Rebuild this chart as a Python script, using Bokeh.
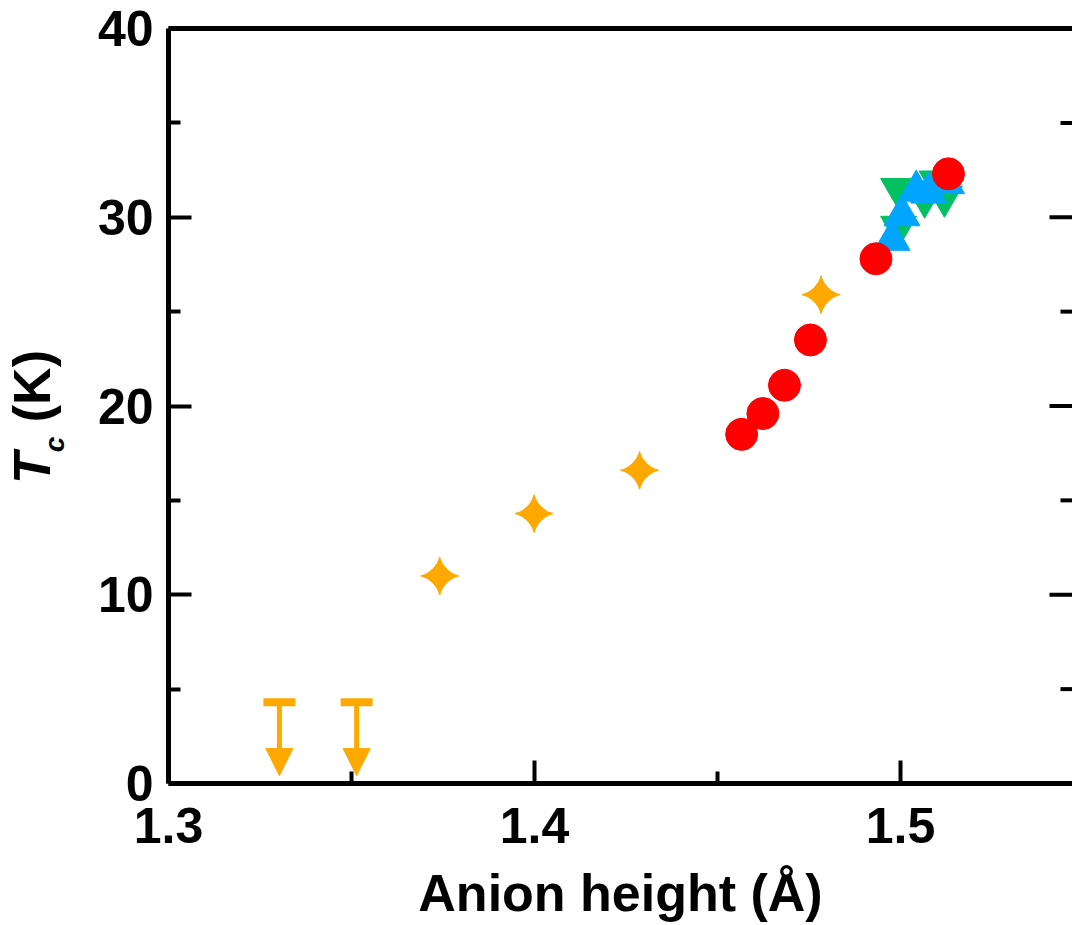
import numpy as np
from bokeh.plotting import figure
from bokeh.layouts import row
from bokeh.models import (LinearAxis, Range1d, FixedTicker, Arrow, NormalHead,
                          ColumnDataSource, Div)
from bokeh.embed import file_html
from bokeh.resources import INLINE

# ---------------- data ----------------
star_x = [1.3741, 1.3999, 1.4287, 1.4783]
star_y = [11.0, 14.3, 16.6, 25.9]

limit_x = [1.3303, 1.3514]
limit_y = [4.3, 4.3]
limit_tip = [0.42, 0.42]

red_x = [1.4566, 1.4624, 1.4683, 1.4754, 1.4933, 1.5131]
red_y = [18.5, 19.6, 21.1, 23.5, 27.8, 32.3]

green_x = [1.4995, 1.4995, 1.5066, 1.5100, 1.5120]
green_y = [31.5, 29.5, 31.05, 31.9, 31.1]

blue_x = [1.4977, 1.5004, 1.5043, 1.5077, 1.5126]
blue_y = [28.8, 30.1, 31.4, 31.3, 31.8]

x_ticks = [1.3, 1.4, 1.5]
x_minor = [1.35, 1.45, 1.55]
y_ticks = [0, 10, 20, 30, 40]
y_minor = [5, 15, 25, 35]

x_title = "Anion height (Å)"
y_title_main = "T"
y_title_sub = "c"
y_title_unit = " (K)"

# ---------------- styles ----------------
ORANGE = "#FFA800"
RED = "#FF0000"
BLUE = "#00A5FF"
GREEN = "#00C060"
FONT = "Liberation Sans"

X0, X1 = 1.3, 1.547
Y0, Y1 = 0, 40
DIV_W = 70
W, H = 1072 - DIV_W, 925
BL, BR, BT = 168 - DIV_W, 0, 28
FW, FH = W - BL - BR, 755
BB = H - BT - FH

p = figure(width=W, height=H, x_range=Range1d(X0, X1), y_range=Range1d(Y0, Y1),
           output_backend="svg", toolbar_location=None,
           min_border_left=BL, min_border_right=BR, min_border_top=BT,
           min_border_bottom=BB, margin=0)
p.outline_line_color = None
p.grid.visible = False
p.background_fill_color = "white"
p.border_fill_color = "white"

def style_axis(ax):
    ax.axis_line_width = 5
    ax.axis_line_color = "black"
    ax.major_tick_in = 23
    ax.major_tick_out = 0
    ax.minor_tick_in = 12
    ax.minor_tick_out = 0
    ax.major_tick_line_width = 4
    ax.minor_tick_line_width = 4
    ax.major_tick_line_color = "black"
    ax.minor_tick_line_color = "black"
    ax.major_label_text_font = FONT
    ax.major_label_text_font_style = "bold"
    ax.major_label_text_font_size = "50px"
    ax.major_label_text_color = "black"

xa = p.xaxis[0]
xa.ticker = FixedTicker(ticks=x_ticks, minor_ticks=x_minor)
style_axis(xa)
xa.major_label_standoff = 24
xa.axis_label = x_title
xa.axis_label_text_font = FONT
xa.axis_label_text_font_style = "bold"
xa.axis_label_text_font_size = "52px"
xa.axis_label_text_color = "black"
xa.axis_label_standoff = 18

ya = p.yaxis[0]
ya.ticker = FixedTicker(ticks=y_ticks, minor_ticks=y_minor)
style_axis(ya)
ya.major_label_standoff = 15

top = LinearAxis(ticker=FixedTicker(ticks=[]))
top.axis_line_width = 5
top.axis_line_color = "black"
top.major_tick_in = 0
top.major_tick_out = 0
top.minor_tick_in = 0
top.minor_tick_out = 0
top.major_label_standoff = 0
p.add_layout(top, "above")

# inward ticks along the right edge, at the y tick values
dxpp = (X1 - X0) / FW
p.segment(x0=[X1 - 23 * dxpp] * len(y_ticks), y0=y_ticks,
          x1=[X1] * len(y_ticks), y1=y_ticks, line_width=4, line_color="black")
p.segment(x0=[X1 - 12 * dxpp] * len(y_minor), y0=y_minor,
          x1=[X1] * len(y_minor), y1=y_minor, line_width=4, line_color="black")

# four-point stars as patches around each data point
dypp = (Y1 - Y0) / FH
R = 19.0
t = np.linspace(0, 2 * np.pi, 161)
k = 3.0
ux = np.sign(np.cos(t)) * np.abs(np.cos(t)) ** k
uy = np.sign(np.sin(t)) * np.abs(np.sin(t)) ** k
sxs = [list(x + R * dxpp * ux) for x in star_x]
sys_ = [list(y + R * dypp * uy) for y in star_y]
p.patches(sxs, sys_, fill_color=ORANGE, line_color=ORANGE, line_width=1.5)

# upper-limit markers
p.scatter(limit_x, limit_y, marker="dash", size=32, line_width=8, line_color=ORANGE)
src = ColumnDataSource(dict(x=limit_x, y0=limit_y, y1=limit_tip))
p.add_layout(Arrow(end=NormalHead(size=27, fill_color=ORANGE, line_color=ORANGE),
                   x_start="x", y_start="y0", x_end="x", y_end="y1", source=src,
                   line_color=ORANGE, line_width=5))

p.scatter(green_x, green_y, marker="inverted_triangle", size=36,
          fill_color=GREEN, line_color=GREEN)
p.scatter(blue_x, blue_y, marker="triangle", size=36,
          fill_color=BLUE, line_color=BLUE)
p.scatter(red_x, red_y, marker="circle", size=32, fill_color=RED, line_color=RED)

# y axis title (rotated, with italic T and subscript c)
ytitle_html = (
    '<div style="position:absolute; left:6px; top:484px; '
    'transform:rotate(-90deg); transform-origin:0 0; white-space:nowrap; '
    "font-family:'Liberation Sans'; font-weight:bold; font-size:52px; "
    'line-height:52px; color:black;">'
    '<i>' + y_title_main + '</i>'
    '<i style="font-size:28px; position:relative; top:14px;">' + y_title_sub + '</i>'
    + y_title_unit.replace(" ", "&nbsp;") + '</div>'
)
div = Div(text=ytitle_html, width=DIV_W, height=H, margin=0,
          styles={"position": "relative", "overflow": "visible"})

layout = row(div, p, spacing=0)
open("out.html", "w").write(file_html(layout, INLINE))
